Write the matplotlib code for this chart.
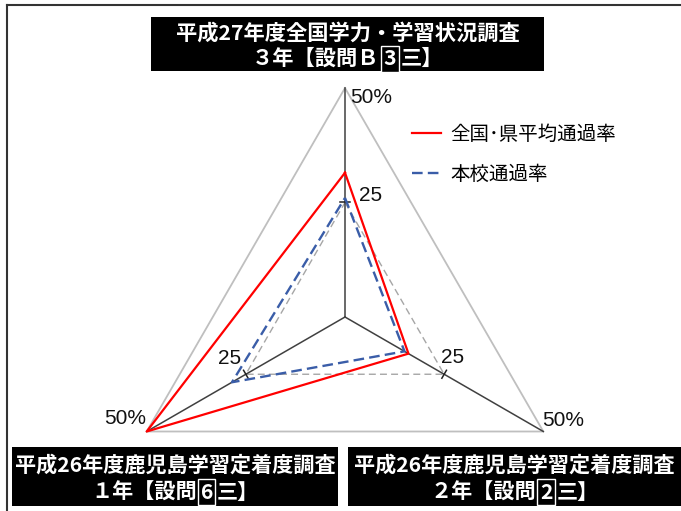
import numpy as np
import matplotlib
matplotlib.use('Agg')
import matplotlib.pyplot as plt
from matplotlib.lines import Line2D
from matplotlib.patches import Rectangle

plt.rcParams['font.family'] = ['Noto Sans CJK JP', 'DejaVu Sans']

# ---- data ----
categories = ['3年', '2年', '1年']          # clockwise from top
national = [31.5, 16.0, 50.0]               # 全国・県平均通過率
school = [26.0, 15.0, 28.5]                 # 本校通過率
grid_levels = [25, 50]
grid_labels = ['25', '50%']
series_names = ['全国･県平均通過率', '本校通過率']
titles_line1 = ['平成27年度全国学力・学習状況調査',
                '平成26年度鹿児島学習定着度調査',
                '平成26年度鹿児島学習定着度調査']
titles_line2 = [['３年【設問Ｂ', '3', '三】'],
                ['１年【設問', '6', '三】'],
                ['２年【設問', '2', '三】']]

W, H = 681, 511
fig = plt.figure(figsize=(W / 100, H / 100), dpi=100)
fig.patch.set_facecolor('white')

cx, cy = 345, 317      # pixel centre of the radar
R = 229                # pixels for the max level
rmax = 50
k = R / rmax
ax = fig.add_axes([0, 0, 1, 1])
ax.set_xlim(-cx / k, (W - cx) / k)
ax.set_ylim(-(H - cy) / k, cy / k)
ax.axis('off')

angles = np.deg2rad([90, -30, 210])


def xy(vals):
    v = np.asarray(vals, float)
    return v * np.cos(angles), v * np.sin(angles)


# grid polygons
for lev, style in zip(grid_levels, [dict(color='#A6A6A6', lw=1.0, ls=(0, (5, 3))),
                                    dict(color='#BFBFBF', lw=1.3, ls='-')]):
    gx, gy = xy([lev] * 3)
    ax.plot(np.append(gx, gx[0]), np.append(gy, gy[0]), zorder=1, **style)

# spokes
for a in angles:
    ax.plot([0, rmax * np.cos(a)], [0, rmax * np.sin(a)], color='#404040', lw=1.1, zorder=2)
    # tick at 25
    px, py = 25 * np.cos(a), 25 * np.sin(a)
    nx, ny = -np.sin(a), np.cos(a)
    t = 1.0
    ax.plot([px - t * nx, px + t * nx], [py - t * ny, py + t * ny], color='#202020', lw=1.1, zorder=2)

# series
nx_, ny_ = xy(national)
ax.plot(np.append(nx_, nx_[0]), np.append(ny_, ny_[0]), color='#FF0000', lw=1.6, zorder=4,
        label=series_names[0])
sx_, sy_ = xy(school)
ax.plot(np.append(sx_, sx_[0]), np.append(sy_, sy_[0]), color='#3A5DA8', lw=1.7, zorder=3,
        dashes=(4.5, 2.2), label=series_names[1])

# axis value labels
fs_lab = 15
offsets = {  # (angle index, level): (dx px, dy px, ha)
    (0, 50): (5, -10, 'left'), (0, 25): (14, 7, 'left'),
    (1, 25): (-3, 17, 'left'), (1, 50): (-1, 11, 'left'),
    (2, 25): (-5, 16, 'right'), (2, 50): (-1, 13, 'right'),
}
for i, a in enumerate(angles):
    for lev, lab in zip(grid_levels, grid_labels):
        dx, dy, ha = offsets[(i, lev)]
        ax.annotate(lab, (lev * np.cos(a), lev * np.sin(a)), xytext=(dx * 0.72, dy * 0.72),
                    textcoords='offset points', ha=ha, va='center', fontsize=fs_lab,
                    family=['Liberation Sans', 'DejaVu Sans'], color='#111111')

# legend
leg = ax.legend(loc='upper left', bbox_to_anchor=(412 / W, 1 - 124 / H), frameon=False,
                fontsize=14, handlelength=1.5, handletextpad=0.45, labelspacing=0.95,
                borderaxespad=0, borderpad=0)

# border lines of the picture
fig.add_artist(Line2D([7 / W, 1], [1 - 5 / H, 1 - 5 / H], transform=fig.transFigure,
                      color='#333333', lw=1.5))
fig.add_artist(Line2D([7 / W, 7 / W], [0, 1 - 5 / H], transform=fig.transFigure,
                      color='#333333', lw=1.5))

# title boxes
boxes = [(151, 17, 544, 71), (12, 447, 338, 506), (348, 447, 681, 506)]
fs_titles = [15.3, 15.2, 15.2]
fig.canvas.draw()
renderer = fig.canvas.get_renderer()
for (x0, y0, x1, y1), l1, l2, fs in zip(boxes, titles_line1, titles_line2, fs_titles):
    fig.add_artist(Rectangle((x0 / W, 1 - y1 / H), (x1 - x0) / W, (y1 - y0) / H,
                             transform=fig.transFigure, facecolor='black', edgecolor='none'))
    xc = (x0 + x1) / 2
    hbox = y1 - y0
    yl1 = y0 + hbox * 0.30
    yl2 = y0 + hbox * 0.77
    fig.text(xc / W, 1 - yl1 / H, l1, ha='center', va='center', color='white',
             fontsize=fs, fontweight='bold')
    # second line made of pieces, middle one boxed
    pieces = []
    for j, p in enumerate(l2):
        t = fig.text(0, 1 - yl2 / H, p, ha='left', va='center', color='white',
                     fontsize=fs, fontweight='bold')
        pieces.append(t)
    widths = [t.get_window_extent(renderer).width for t in pieces]
    gap = 4
    total = sum(widths) + 2 * gap
    x = xc - total / 2
    for j, (t, w) in enumerate(zip(pieces, widths)):
        if j == 1:
            x += gap
            t.set_bbox(dict(boxstyle='square,pad=0.12', facecolor='black', edgecolor='white', lw=1))
        t.set_x(x / W)
        x += w
        if j == 1:
            x += gap

fig.savefig('out.png', dpi=100)
